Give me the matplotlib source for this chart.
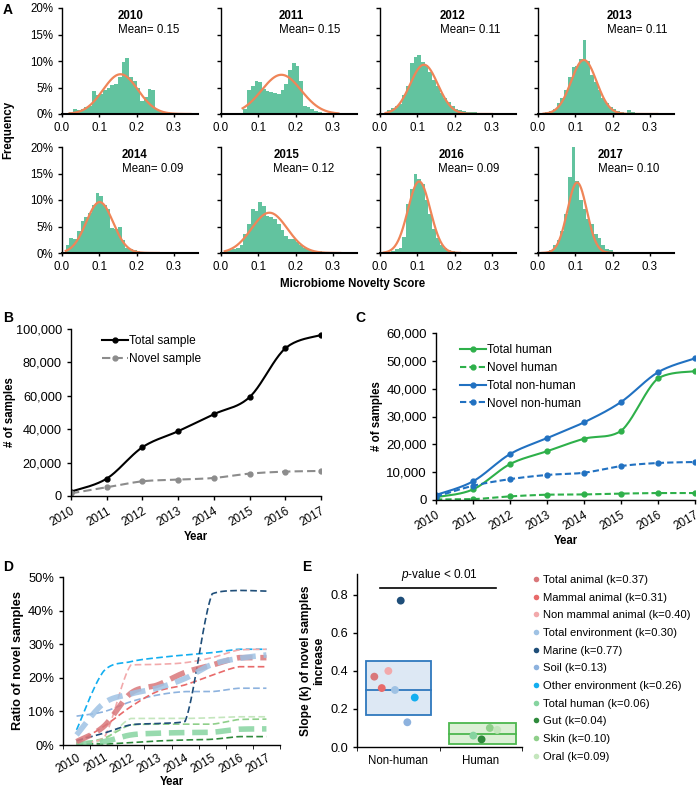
import numpy as np
import matplotlib.pyplot as plt
from matplotlib.lines import Line2D
from matplotlib.patches import Rectangle

plt.rcParams['font.family'] = ['Liberation Sans', 'DejaVu Sans']
plt.rcParams['font.size'] = 8.3
plt.rcParams['mathtext.fontset'] = 'custom'
plt.rcParams['mathtext.rm'] = 'Liberation Sans'
plt.rcParams['mathtext.it'] = 'Liberation Sans:italic'
plt.rcParams['axes.linewidth'] = 1.0
plt.rcParams['xtick.major.size'] = 3
plt.rcParams['ytick.major.size'] = 3

W, H = 700, 786

# ---------------- data ----------------
years = [2010, 2011, 2012, 2013, 2014, 2015, 2016, 2017]

# panel A: histogram frequencies (%), bin width 0.01
freq_2010 = [0.3, 1.0, 0.8, 1.0, 1.3, 1.5, 4.3, 3.5, 3.8, 4.5, 5.0, 5.5, 5.7, 7.0, 9.8, 10.6,
             7.0, 6.3, 5.0, 2.5, 3.3, 4.7, 4.5, 1.0, 0.5, 0.4, 0.3, 0.2]
freq_2011 = [1.0, 4.6, 5.2, 6.3, 6.0, 4.8, 4.3, 4.2, 4.0, 3.8, 4.5, 5.6, 8.3, 9.6, 9.0, 6.3,
             1.6, 1.3, 1.0, 0.5, 0.3]
freq_2012 = [0.8, 1.2, 1.5, 1.8, 3.6, 5.3, 9.7, 10.7, 11.2, 9.9, 9.2, 8.0, 6.4, 5.2, 4.0, 3.0,
             2.2, 1.5, 1.0, 0.7, 0.5, 0.4, 0.4, 0.3, 0.2, 0.1]
freq_2013 = [0.3, 0.5, 1.0, 2.0, 3.0, 4.5, 7.0, 8.8, 9.0, 10.4, 14.0, 10.0, 7.3, 6.0, 4.5, 3.0,
             2.0, 1.3, 0.9, 0.5, 0.3, 0.2, 0.8, 0.3]
freq_2014 = [1.5, 2.8, 2.6, 4.2, 6.0, 6.8, 7.5, 9.0, 11.3, 10.8, 9.0, 8.3, 4.8, 4.5, 5.0, 2.5,
             1.0, 0.8, 0.5, 0.3, 0.2, 0.1]
freq_2015 = [0.3, 0.5, 0.8, 1.0, 1.5, 3.5, 5.5, 8.3, 8.0, 9.6, 8.8, 7.0, 6.7, 6.5, 5.5, 4.3,
             3.2, 2.6, 2.6, 2.0, 1.5, 1.0, 0.8, 0.6, 0.4, 0.3, 0.2]
freq_2016 = [0.3, 0.8, 1.0, 3.0, 9.3, 12.0, 15.0, 14.0, 13.0, 10.0, 7.3, 4.5, 2.8, 1.5, 1.0,
             0.5, 0.3, 0.1]
freq_2017 = [0.5, 1.5, 2.5, 4.2, 7.3, 14.3, 20.5, 13.5, 10.0, 8.3, 6.5, 5.5, 3.5, 2.8, 1.5,
             0.8, 0.5, 0.2]
freq_all = [freq_2010, freq_2011, freq_2012, freq_2013, freq_2014, freq_2015, freq_2016, freq_2017]
bin_start = [0.02, 0.06, 0.02, 0.02, 0.01, 0.01, 0.03, 0.03]
mean_labels = ['0.15', '0.15', '0.11', '0.11', '0.09', '0.12', '0.09', '0.10']
# fitted normal curve: centre, sd, peak (%), start, end
fit_mu = [0.157, 0.162, 0.118, 0.123, 0.101, 0.130, 0.105, 0.105]
fit_sd = [0.047, 0.053, 0.037, 0.034, 0.036, 0.048, 0.030, 0.026]
fit_peak = [7.5, 7.4, 9.3, 10.2, 9.6, 7.6, 13.5, 13.3]
fit_x0 = [0.02, 0.058, 0.015, 0.015, 0.01, 0.01, 0.01, 0.01]
fit_x1 = [0.345, 0.315, 0.30, 0.32, 0.26, 0.32, 0.215, 0.20]
title_x = [0.150, 0.155, 0.160, 0.185, 0.160, 0.140, 0.157, 0.160]

# panel B
total_sample = [2600, 10400, 29200, 38800, 49000, 59200, 88400, 96400]
novel_sample = [1600, 5200, 8800, 9800, 10800, 13400, 14600, 15000]

# panel C
total_human = [1000, 3800, 12900, 17500, 22000, 24800, 43700, 46300]
novel_human = [200, 300, 1300, 1900, 2000, 2300, 2500, 2500]
total_nonhuman = [1800, 6700, 16500, 22200, 27900, 35200, 45900, 50900]
novel_nonhuman = [1200, 5100, 7500, 9000, 9800, 12200, 13300, 13650]

# panel D: ratio of novel samples (%)
groups = ['Total animal', 'Mammal animal', 'Non mammal animal', 'Total environment',
          'Marine', 'Soil', 'Other environment', 'Total human', 'Gut', 'Skin', 'Oral']
group_colors = ['#d9777a', '#e86a6a', '#f2a9ab', '#9fc2e4', '#1f4e79', '#8db2de',
                '#12aef0', '#86d4a0', '#2f8a3c', '#8fcf8a', '#c4e6bd']
ratio = {
    'Total animal':      [1.0, 5.5, 15.4, 17.9, 21.6, 23.8, 26.0, 26.0],
    'Mammal animal':     [0.7, 5.5, 11.4, 16.0, 17.9, 20.8, 23.3, 23.3],
    'Non mammal animal': [0.5, 2.0, 23.8, 24.0, 24.5, 26.0, 28.3, 28.5],
    'Total environment': [3.0, 12.4, 15.2, 17.0, 19.8, 24.0, 25.8, 26.8],
    'Marine':            [1.3, 3.5, 6.0, 6.4, 7.0, 45.0, 46.0, 45.8],
    'Soil':              [8.6, 9.9, 12.9, 14.9, 15.9, 15.9, 16.9, 16.9],
    'Other environment': [4.5, 22.0, 24.8, 26.0, 26.8, 27.5, 28.5, 28.5],
    'Total human':       [0.3, 1.0, 3.0, 3.5, 3.7, 3.8, 4.7, 4.8],
    'Gut':               [0.3, 0.3, 0.7, 1.2, 1.5, 1.7, 2.5, 2.5],
    'Skin':              [0.5, 2.0, 6.0, 6.2, 6.2, 6.2, 7.6, 7.7],
    'Oral':              [0.3, 1.5, 7.9, 7.9, 7.9, 8.1, 8.4, 8.4],
}
thick_groups = ['Total animal', 'Total environment', 'Total human']

# panel E: slope k per group
slope_k = [0.37, 0.31, 0.40, 0.30, 0.77, 0.13, 0.26, 0.06, 0.04, 0.10, 0.09]
slope_x = [0.21, 0.30, 0.38, 0.46, 0.53, 0.61, 0.70, 1.41, 1.51, 1.61, 1.70]
box_nonhuman = (0.17, 0.30, 0.45)
box_human = (0.015, 0.067, 0.127)


def smooth(x, y, n=24):
    # Excel-like smoothed line: Catmull-Rom bezier, control points kept inside each segment
    p = np.column_stack([x, y]).astype(float)
    p = np.vstack([p[:1], p, p[-1:]])
    t = np.linspace(0, 1, n)[:, None]
    out = []
    for i in range(1, len(p) - 2):
        p0, p1, p2, p3 = p[i - 1], p[i], p[i + 1], p[i + 2]
        c1 = p1 + (p2 - p0) / 6
        c2 = p2 - (p3 - p1) / 6
        lo, hi = min(p1[1], p2[1]), max(p1[1], p2[1])
        c1[1] = np.clip(c1[1], lo, hi)
        c2[1] = np.clip(c2[1], lo, hi)
        seg = (1 - t) ** 3 * p1 + 3 * (1 - t) ** 2 * t * c1 + 3 * (1 - t) * t ** 2 * c2 + t ** 3 * p2
        out.append(seg if i == 1 else seg[1:])
    out = np.vstack(out)
    return out[:, 0], out[:, 1]


def px_axes(x0, y0, x1, y1):
    return fig.add_axes([x0 / W, 1 - y1 / H, (x1 - x0) / W, (y1 - y0) / H])


def style(ax):
    ax.spines['top'].set_visible(False)
    ax.spines['right'].set_visible(False)
    ax.tick_params(direction='out', width=1)


fig = plt.figure(figsize=(W / 100, H / 100), dpi=100)

# ---------------- A ----------------
col_x = [62, 221, 380, 538]
row_y = [(8, 114), (147, 253)]
for i, yr in enumerate(years):
    r, c = divmod(i, 4)
    ax = px_axes(col_x[c], row_y[r][0], col_x[c] + 136, row_y[r][1])
    style(ax)
    f = np.array(freq_all[i]) / 100
    edges = bin_start[i] + 0.01 * np.arange(len(f))
    ax.bar(edges, f, width=0.01, align='edge', color='#62c39f', linewidth=0)
    xc = np.linspace(fit_x0[i], fit_x1[i], 200)
    yc = fit_peak[i] / 100 * np.exp(-(xc - fit_mu[i]) ** 2 / (2 * fit_sd[i] ** 2))
    ax.plot(xc, yc, color='#ef8558', lw=1.6)
    ax.set_xlim(0, 0.365)
    ax.set_ylim(0, 0.20)
    ax.set_xticks([0, 0.1, 0.2, 0.3])
    ax.set_xticklabels(['0.0', '0.1', '0.2', '0.3'])
    ax.set_yticks([0, 0.05, 0.10, 0.15, 0.20])
    if c == 0:
        ax.set_yticklabels(['0%', '5%', '10%', '15%', '20%'])
    else:
        ax.set_yticklabels([])
    ax.spines['bottom'].set_linewidth(1.5)
    ax.tick_params(axis='x', length=2)
    ax.text(title_x[i], 0.185, str(yr), fontweight='bold', ha='left', va='center')
    ax.text(title_x[i], 0.158, 'Mean= ' + mean_labels[i], ha='left', va='center')

fig.text(8 / W, 1 - 130 / H, 'Frequency', rotation=90, fontweight='bold', ha='center', va='center')
fig.text(353 / W, 1 - 284 / H, 'Microbiome Novelty Score', fontweight='bold', ha='center', va='center')

# ---------------- B ----------------
axb = px_axes(71, 329, 321, 496)
style(axb)
xs, ys = smooth(years, total_sample)
axb.plot(xs, ys, color='black', lw=1.5)
axb.plot(years, total_sample, 'o', color='black', ms=3.5)
xs, ys = smooth(years, novel_sample)
axb.plot(xs, ys, color='#8c8c8c', lw=1.5, ls=(0, (4, 2)))
axb.plot(years, novel_sample, 'o', color='#8c8c8c', ms=3.5)
axb.set_xlim(2010, 2017)
axb.set_ylim(0, 100000)
axb.set_yticks(range(0, 100001, 20000))
axb.set_yticklabels([f'{v:,}' for v in range(0, 100001, 20000)], fontsize=9.2)
axb.set_xticks(years)
axb.set_xticklabels(years, rotation=30, ha='right', rotation_mode='anchor', fontsize=8.5)
axb.set_xlabel('Year', fontweight='bold', labelpad=2)
axb.set_ylabel('# of samples', fontweight='bold')
axb.yaxis.set_label_coords((16 - 71) / 250, 0.5)
hb = [Line2D([], [], color='black', lw=1.5, marker='o', ms=3.5),
      Line2D([], [], color='#8c8c8c', lw=1.5, ls=(0, (4, 2)), marker='o', ms=3.5)]
axb.legend(hb, ['Total sample', 'Novel sample'], loc='upper left', bbox_to_anchor=(0.08, 1.03),
           frameon=False, handlelength=2.2, handletextpad=0.1, labelspacing=0.5, fontsize=8.6)

# ---------------- C ----------------
axc = px_axes(436, 333, 695, 500)
style(axc)
green, blue = '#2eb04a', '#2171c1'
series_c = [(total_human, green, '-'), (novel_human, green, (0, (3, 1.5))),
            (total_nonhuman, blue, '-'), (novel_nonhuman, blue, (0, (3, 1.5)))]
for vals, col, ls in series_c:
    xs, ys = smooth(years, vals)
    axc.plot(xs, ys, color=col, lw=1.5, ls=ls)
    axc.plot(years, vals, 'o', color=col, ms=3.5)
axc.set_xlim(2010, 2017)
axc.set_ylim(0, 60000)
axc.set_yticks(range(0, 60001, 10000))
axc.set_yticklabels([f'{v:,}' for v in range(0, 60001, 10000)], fontsize=9.5)
axc.set_xticks(years)
axc.set_xticklabels(years, rotation=30, ha='right', rotation_mode='anchor', fontsize=8.5)
axc.set_xlabel('Year', fontweight='bold', labelpad=2)
axc.set_ylabel('# of samples', fontweight='bold')
axc.yaxis.set_label_coords((383 - 436) / 259, 0.5)
hc = [Line2D([], [], color=col, lw=1.5, ls=ls, marker='o', ms=3.5) for _, col, ls in series_c]
axc.legend(hc, ['Total human', 'Novel human', 'Total non-human', 'Novel non-human'],
           loc='upper left', bbox_to_anchor=(0.05, 1.0), frameon=False, handlelength=2.2,
           handletextpad=0.1, labelspacing=0.5, fontsize=8.6)

# ---------------- D ----------------
axd = px_axes(63, 577, 280, 745)
style(axd)
xi = np.arange(len(years))
order = ['Soil', 'Oral', 'Skin', 'Gut', 'Other environment', 'Non mammal animal',
         'Mammal animal', 'Total human', 'Marine', 'Total animal', 'Total environment']
for g in order:
    col = group_colors[groups.index(g)]
    xs, ys = smooth(xi, np.array(ratio[g]) / 100)
    if g in thick_groups:
        axd.plot(xs, ys, color=col, lw=4, ls=(0, (2.8, 1.4)), alpha=0.85)
    else:
        axd.plot(xs, ys, color=col, lw=1.2, ls=(0, (4, 2)))
axd.set_xlim(-0.5, 7.5)
axd.set_ylim(0, 0.5)
axd.set_yticks([0, 0.1, 0.2, 0.3, 0.4, 0.5])
axd.set_yticklabels(['0%', '10%', '20%', '30%', '40%', '50%'], fontsize=9.3)
axd.set_xticks(xi)
axd.set_xticklabels(years, rotation=30, ha='right', rotation_mode='anchor', fontsize=8.5)
axd.set_xticks(np.arange(-0.5, 8, 1), minor=True)
axd.tick_params(axis='x', which='major', length=0, pad=5)
axd.tick_params(axis='x', which='minor', length=3, direction='out')
axd.set_xlabel('Year', fontweight='bold', labelpad=0)
axd.set_ylabel('Ratio of novel samples', fontweight='bold', labelpad=3, fontsize=9.2)

# ---------------- E ----------------
axe = px_axes(357, 574, 522, 747)
style(axe)
for (lo, med, hi), x0, x1, face, edge in [(box_nonhuman, 0.11, 0.90, '#dde8f4', '#2e78bd'),
                                           (box_human, 1.11, 1.93, '#dcf0d6', '#4cb74e')]:
    axe.add_patch(Rectangle((x0, lo), x1 - x0, hi - lo, facecolor=face, edgecolor=edge, lw=1.3))
    axe.plot([x0, x1], [med, med], color=edge, lw=1.3)
axe.scatter(slope_x, slope_k, s=32, c=group_colors, zorder=3, linewidths=0)
axe.plot([0.28, 1.69], [0.837, 0.837], color='black', lw=1.2)
axe.text(1.0, 0.862, '$p$-value < 0.01', ha='center', va='bottom', fontsize=8.5)
axe.set_xlim(0, 2)
axe.set_ylim(0, 0.91)
axe.set_yticks([0, 0.2, 0.4, 0.6, 0.8])
axe.set_yticklabels(['0.0', '0.2', '0.4', '0.6', '0.8'], fontsize=9.2)
axe.set_xticks([0.5, 1.5])
axe.set_xticklabels(['Non-human', 'Human'], fontsize=8.3)
axe.set_xticks([0, 1, 2], minor=True)
axe.tick_params(axis='x', which='major', length=0, pad=6)
axe.tick_params(axis='x', which='minor', length=3, direction='out')
axe.set_ylabel('Slope (k) of novel samples\nincrease', fontweight='bold', labelpad=4,
               linespacing=1.1, fontsize=8.6)

he = [Line2D([], [], ls='', marker='o', ms=4, color=col, mec='none') for col in group_colors]
le = [f'{g} (k={k:.2f})' for g, k in zip(groups, slope_k)]
fig.legend(he, le, loc='upper left', bbox_to_anchor=(533 / W, 1 - 575 / H), frameon=False,
           handlelength=0.6, handletextpad=0.3, labelspacing=0.68, borderpad=0,
           borderaxespad=0, fontsize=8.1)

# panel letters
for lab, x, y in [('A', 3, 10), ('B', 3, 318), ('C', 355, 318), ('D', 3, 567), ('E', 302, 567)]:
    fig.text(x / W, 1 - y / H, lab, fontsize=10, fontweight='bold', ha='left', va='center')

fig.savefig('out.png', dpi=100)
